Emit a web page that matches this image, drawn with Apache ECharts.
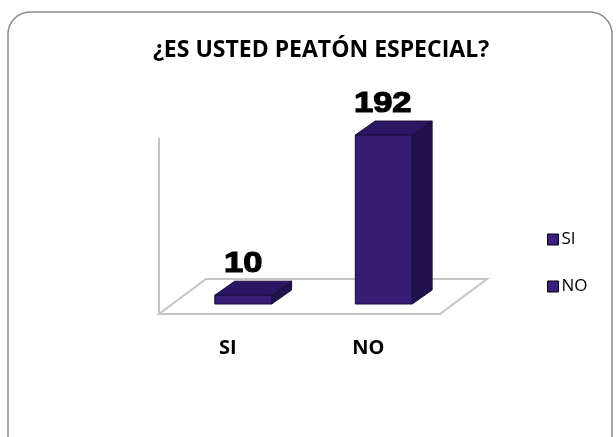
<!DOCTYPE html>
<html>
<head>
<meta charset="utf-8">
<script src="https://cdn.jsdelivr.net/npm/echarts@6/dist/echarts.min.js"></script>
<style>
  html, body { margin: 0; padding: 0; background: #fff; }
  #chart { width: 616px; height: 437px; }
</style>
</head>
<body>
<div id="chart"></div>
<script>
const titleText = '¿ES USTED PEATÓN ESPECIAL?';
const categories = ['SI', 'NO'];
const values = [10, 192];
const legendNames = ['SI', 'NO'];

const frontColor = '#371c75';
const topColor = '#2c1764';
const sideColor = '#21114c';
const edgeColor = '#1a0e3a';

const chart = echarts.init(document.getElementById('chart'), null, { renderer: 'canvas' });

function renderBar(params, api) {
  const xi = api.value(0);
  const v = api.value(1);
  const top = api.coord([xi, v]);
  const base = api.coord([xi, 0]);
  const bw = api.size([1, 0])[0] * 0.405;
  const dx = bw * 0.35;
  const dy = -bw * 0.246;
  const x0 = top[0] - bw / 2, x1 = top[0] + bw / 2;
  const yT = top[1], yB = base[1];
  const edge = { stroke: edgeColor, lineWidth: 1 };
  return {
    type: 'group',
    children: [
      { type: 'polygon', shape: { points: [[x1, yT], [x1 + dx, yT + dy], [x1 + dx, yB + dy], [x1, yB]] },
        style: Object.assign({ fill: sideColor }, edge) },
      { type: 'polygon', shape: { points: [[x0, yT], [x0 + dx, yT + dy], [x1 + dx, yT + dy], [x1, yT]] },
        style: Object.assign({ fill: topColor }, edge) },
      { type: 'rect', shape: { x: x0, y: yT, width: bw, height: yB - yT },
        style: Object.assign({ fill: frontColor }, edge) },
      { type: 'text', x: top[0] + (xi === 1 ? -1 : 0), y: yT + dy - 17, scaleX: 1.15,
        style: { text: String(v), x: 0, y: 0, align: 'center', verticalAlign: 'middle',
          fontFamily: 'Liberation Sans', fontWeight: 'bold', fontSize: 30,
          fill: '#000', stroke: '#000', lineWidth: 1.2 } }
    ]
  };
}

function renderFloor(params, api) {
  const cs = params.coordSys;
  const fy = cs.y + cs.height + 10;
  const fl = cs.x - 14, fr = cs.x + cs.width - 14;
  const ddx = 47, ddy = -35;
  return {
    type: 'group',
    children: [
      { type: 'polygon', shape: { points: [[fl, fy], [fr, fy], [fr + ddx, fy + ddy], [fl + ddx, fy + ddy]] },
        style: { fill: '#fff', stroke: '#c4c4c4', lineWidth: 2 } },
      { type: 'line', shape: { x1: fl, y1: fy, x2: fl, y2: cs.y + 10 },
        style: { stroke: '#c4c4c4', lineWidth: 2 } }
    ]
  };
}

const barSeries = legendNames.map((name, i) => ({
  name: name,
  type: 'custom',
  renderItem: renderBar,
  clip: false,
  z: 5,
  itemStyle: { color: '#3a1f7e', borderColor: '#000', borderWidth: 1 },
  encode: { x: 0, y: 1 },
  data: [[i, values[i]]]
}));

chart.setOption({
  animation: false,
  backgroundColor: '#fff',
  title: {
    text: titleText,
    left: 316,
    textAlign: 'center',
    top: 34,
    textStyle: { fontFamily: 'Open Sans', fontWeight: 'bold', fontSize: 23, color: '#000' }
  },
  legend: {
    data: legendNames,
    orient: 'vertical',
    left: 542,
    top: 226,
    icon: 'rect',
    itemWidth: 11,
    itemHeight: 11,
    itemGap: 30,
    itemStyle: { borderColor: '#000', borderWidth: 1 },
    textStyle: { fontFamily: 'Open Sans', fontSize: 17, color: '#000', padding: [0, 0, 0, -2] }
  },
  grid: { left: 173, right: 162, top: 128, bottom: 133 },
  xAxis: {
    type: 'category',
    data: categories,
    axisLine: { show: false },
    axisTick: { show: false },
    axisLabel: {
      margin: 34,
      padding: [0, 31, 0, 0],
      fontFamily: 'Open Sans', fontWeight: 'bold', fontSize: 20, color: '#000'
    }
  },
  yAxis: { type: 'value', min: 0, max: 200, show: false },
  graphic: [
    { type: 'rect', z: -10, shape: { x: 8, y: 12, width: 604, height: 460, r: 22 },
      style: { fill: 'none', stroke: '#8a8a8a', lineWidth: 1.5 } }
  ],
  series: [
    { name: 'floor', type: 'custom', renderItem: renderFloor, clip: false, silent: true, z: 1,
      encode: { x: 0, y: 1 }, data: [[0, 0]] }
  ].concat(barSeries)
});
</script>
</body>
</html>
